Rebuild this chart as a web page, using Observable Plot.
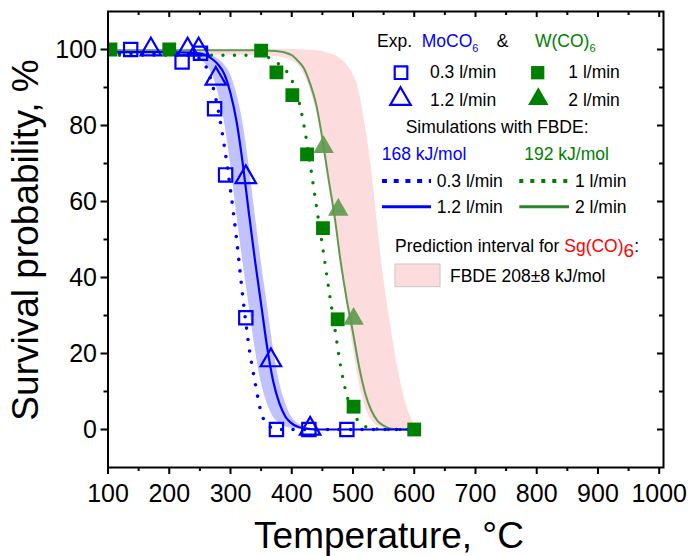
<!DOCTYPE html>
<html>
<head>
<meta charset="utf-8">
<script src="https://cdn.jsdelivr.net/npm/d3@7"></script>
<script src="https://cdn.jsdelivr.net/npm/@observablehq/plot@0.6"></script>
<style>
  html, body { margin: 0; padding: 0; background: #fff; }
  #chart { width: 691px; height: 556px; }
</style>
</head>
<body>
<div id="chart"></div>
<script>
// ---------- data ----------
const xMajor = [100, 200, 300, 400, 500, 600, 700, 800, 900, 1000];
const xMinor = [150, 250, 350, 450, 550, 650, 750, 850, 950];
const yMajor = [0, 20, 40, 60, 80, 100];
const yMinor = [10, 30, 50, 70, 90];

// Experimental points: Mo(CO)6
const moSqT = [137, 221, 251, 274, 292, 325, 375, 428, 490];      // 0.3 l/min
const moSqP = [100, 96.7, 99, 84.4, 67, 29.4, 0, 0, 0];
const moTriT = [170, 230, 248, 276, 325, 366, 430];               // 1.2 l/min
const moTriP = [100, 100, 100, 92.3, 66.4, 18.2, 0.2];

// Experimental points: W(CO)6
const wSqT = [104, 200, 350, 375, 401, 425, 451, 475, 501, 600];  // 1 l/min
const wSqP = [100, 100, 99.7, 94, 88, 72.4, 53, 29, 6, 0];
const wTriT = [452, 476, 501];                                    // 2 l/min
const wTriP = [74.3, 57.8, 29.1];

// Simulations, Mo (168 kJ/mol)
const blueT       = [100, 200, 230, 240, 250, 260, 270, 280, 290, 300, 310, 320, 330, 340, 350, 360, 370, 380, 390, 400, 410, 420, 440, 600];
const blueDotted  = [99, 99, 98.8, 98.5, 97.5, 95.5, 91, 84, 74.5, 63, 50, 35, 22, 12.5, 4.5, 1.3, 0.3, 0, 0, 0, 0, 0, 0, 0];
const blueSolid   = [99.3, 99.3, 99.2, 99.1, 99, 98.5, 97.5, 96, 93.5, 88.5, 81, 70, 57, 44.5, 33, 21.5, 12.5, 6.8, 3.3, 1.6, 0.7, 0.3, 0, 0];
const bandT       = [230, 240, 250, 260, 270, 280, 290, 300, 310, 320, 330, 340, 350, 360, 370, 380, 390, 400, 410, 420, 440];
const bandLo      = [99, 98.5, 97.5, 96, 93.5, 88.5, 81, 70, 57, 44.5, 33, 21.5, 12.5, 6.8, 3.3, 1.6, 0.7, 0.3, 0.1, 0, 0];
const bandHi      = [99.4, 99.3, 99.2, 99, 98.5, 97.5, 96, 93.5, 88.5, 81, 70, 57, 44.5, 33, 21.5, 12.5, 6.8, 3.3, 1.6, 0.7, 0.1];

// Simulations, W (192 kJ/mol)
const greenT      = [100, 300, 340, 360, 380, 400, 410, 420, 430, 440, 450, 460, 470, 480, 490, 500, 510, 520, 530, 540, 550, 560, 580, 600];
const greenDotted = [98.5, 98.5, 98.5, 98, 96, 92, 87.5, 80, 70, 59, 48.5, 37.5, 27, 16.5, 9, 4.5, 2, 0.8, 0.3, 0.1, 0, 0, 0, 0];
const greenSolid  = [99.8, 99.8, 99.8, 99.7, 99.5, 98.5, 97, 95, 91, 85.5, 76.5, 66, 56, 44, 34, 25.5, 16.5, 9.5, 5, 2.3, 1, 0.3, 0, 0];

// Prediction interval Sg(CO)6, FBDE 208±8 kJ/mol
const pinkT  = [100, 300, 340, 360, 380, 400, 410, 420, 430, 440, 450, 460, 470, 480, 490, 500, 510, 520, 530, 540, 550, 560, 570, 580, 590, 600, 610, 620];
const pinkLo = [98.5, 98.5, 98.5, 98.3, 98, 97, 96, 93.5, 89.5, 84, 77, 68, 57, 45, 33, 22, 12.5, 6, 2.5, 1, 0.3, 0, 0, 0, 0, 0, 0, 0];
const pinkHi = [100, 100, 100, 100, 100, 100, 100, 99.9, 99.8, 99.7, 99.5, 99, 98.5, 97.5, 96, 93.5, 89, 80, 69, 54, 40, 29, 19, 11, 5, 1.5, 0.3, 0];

// ---------- styles ----------
const FONT = "'Liberation Sans', Arial, Helvetica, sans-serif";
const BLUE = "#0000ff";
const GREEN = "#008000";
const OLIVE = "#5f9a4f";
const PINK = "#fcdcdc";
const RED = "#ff0000";

const W = 691, H = 556;
const mL = 107.5, mR = 28, mT = 11, mB = 89;
const plotW = W - mL - mR, plotH = H - mT - mB;

const chart = Plot.plot({
  width: W, height: H,
  marginLeft: mL, marginRight: mR, marginTop: mT, marginBottom: mB,
  x: {domain: [100, 1007]},
  y: {domain: [-10, 110]},
  style: {fontFamily: FONT, background: "#fff", color: "#000"},
  marks: [
    // bands
    Plot.areaY(pinkT, {x: pinkT, y1: pinkLo, y2: pinkHi, fill: PINK, curve: "monotone-x", clip: true}),
    Plot.areaY(bandT, {x: bandT, y1: bandLo, y2: bandHi, fill: BLUE, fillOpacity: 0.24, curve: "monotone-x", clip: true}),
    // simulations
    Plot.line(greenT, {x: greenT, y: greenSolid, stroke: OLIVE, strokeWidth: 2, curve: "monotone-x", clip: true}),
    Plot.line(greenT, {x: greenT, y: greenDotted, stroke: GREEN, strokeWidth: 3.4, strokeDasharray: "0 11.5", strokeLinecap: "round", curve: "monotone-x", clip: true}),
    Plot.line(blueT, {x: blueT, y: blueSolid, stroke: BLUE, strokeWidth: 2.2, curve: "monotone-x", clip: true}),
    Plot.line(blueT, {x: blueT, y: blueDotted, stroke: BLUE, strokeWidth: 3.6, strokeDasharray: "0 11.5", strokeLinecap: "round", curve: "monotone-x", clip: true}),
    // experimental points
    Plot.dot(wSqT, {x: wSqT, y: wSqP, symbol: "square", r: 7.8, fill: GREEN, clip: true}),
    Plot.dot(wTriT, {x: wTriT, y: wTriP, symbol: "triangle", r: 7.6, fill: OLIVE, fillOpacity: 0.92, clip: true}),
    Plot.dot(moSqT, {x: moSqT, y: moSqP, symbol: "square", r: 7.5, stroke: BLUE, strokeWidth: 2.2, fill: "none", clip: true}),
    Plot.dot(moTriT, {x: moTriT, y: moTriP, symbol: "triangle", r: 7.6, stroke: BLUE, strokeWidth: 2.2, fill: "none", clip: true}),
    // axes
    Plot.axisX({ticks: xMajor, tickSize: 7, tickPadding: 10, fontSize: 25, label: null, strokeWidth: 2, tickFormat: d => String(d)}),
    Plot.axisX({ticks: xMinor, tickSize: 4, label: null, strokeWidth: 2, tickFormat: () => ""}),
    Plot.axisY({ticks: yMajor, tickSize: 7, tickPadding: 4, fontSize: 25, label: null, strokeWidth: 2, tickFormat: d => String(d)}),
    Plot.axisY({ticks: yMinor, tickSize: 4, label: null, strokeWidth: 2, tickFormat: () => ""}),
    // mirrored inward ticks (top / right)
    Plot.tickX(xMajor, {x: d => d, insetBottom: plotH - 6, strokeWidth: 2}),
    Plot.tickX(xMinor, {x: d => d, insetBottom: plotH - 4, strokeWidth: 2}),
    Plot.tickY(yMajor, {y: d => d, insetLeft: plotW - 6, strokeWidth: 2}),
    Plot.tickY(yMinor, {y: d => d, insetLeft: plotW - 4, strokeWidth: 2}),
    Plot.frame({stroke: "#000", strokeWidth: 2})
  ]
});

document.getElementById("chart").appendChild(chart);

// ---------- axis titles & legend ----------
const svg = d3.select(chart);
const g = svg.append("g").attr("font-family", FONT).attr("fill", "#000");

g.append("text").attr("x", 389).attr("y", 547.5).attr("text-anchor", "middle")
  .attr("font-size", 37).text("Temperature, °C");
g.append("text").attr("transform", "translate(38,240) rotate(-90)").attr("text-anchor", "middle")
  .attr("font-size", 37).text("Survival probability, %");

const lg = g.append("g").attr("font-size", 17.5).attr("text-anchor", "start");
function label(x, y, s, color) {
  return lg.append("text").attr("x", x).attr("y", y).attr("text-anchor", "start").attr("fill", color || "#000").text(s);
}
function subLabel(x, y, main, sub, color, subSize, subDy) {
  const t = lg.append("text").attr("x", x).attr("y", y).attr("text-anchor", "start").attr("fill", color);
  t.append("tspan").text(main);
  t.append("tspan").attr("font-size", subSize).attr("dy", subDy).text(sub);
  return t;
}
const sym = (type, r) => d3.symbol(type, Math.PI * r * r)();

// header
label(377, 47.3, "Exp.");
subLabel(421.7, 47.3, "MoCO", "6", BLUE, 11, 5);
label(496.7, 47.3, "&");
subLabel(535, 47.3, "W(CO)", "6", GREEN, 11, 5);

// markers row 1
lg.append("path").attr("d", sym(d3.symbolSquare, 7.1)).attr("transform", "translate(401,72.7)")
  .attr("fill", "none").attr("stroke", BLUE).attr("stroke-width", 2.2);
label(430, 78.3, "0.3 l/min");
lg.append("path").attr("d", sym(d3.symbolSquare, 7.5)).attr("transform", "translate(537.7,72.7)")
  .attr("fill", GREEN);
label(568.3, 78.3, "1 l/min");
// markers row 2
lg.append("path").attr("d", sym(d3.symbolTriangle, 7.6)).attr("transform", "translate(400.5,99)")
  .attr("fill", "none").attr("stroke", BLUE).attr("stroke-width", 2.2);
label(430, 106, "1.2 l/min");
lg.append("path").attr("d", sym(d3.symbolTriangle, 7.6)).attr("transform", "translate(538.3,99)")
  .attr("fill", GREEN);
label(568.3, 106, "2 l/min");

// simulations
label(405.7, 133.3, "Simulations with FBDE:");
label(381.7, 160, "168 kJ/mol", BLUE);
label(524.3, 160, "192 kJ/mol", GREEN);

lg.append("line").attr("x1", 382).attr("x2", 431).attr("y1", 181).attr("y2", 181)
  .attr("stroke", BLUE).attr("stroke-width", 4).attr("stroke-dasharray", "5 6.7");
label(436.7, 186.7, "0.3 l/min");
lg.append("line").attr("x1", 519.3).attr("x2", 570).attr("y1", 181).attr("y2", 181)
  .attr("stroke", GREEN).attr("stroke-width", 4).attr("stroke-dasharray", "4 7");
label(575, 186.7, "1 l/min");

lg.append("line").attr("x1", 382).attr("x2", 431).attr("y1", 206.7).attr("y2", 206.7)
  .attr("stroke", BLUE).attr("stroke-width", 3);
label(436.7, 213.3, "1.2 l/min");
lg.append("line").attr("x1", 519.3).attr("x2", 569).attr("y1", 206.7).attr("y2", 206.7)
  .attr("stroke", "#2a842a").attr("stroke-width", 3);
label(575, 213.3, "2 l/min");

// prediction interval
const pt = lg.append("text").attr("x", 395).attr("y", 251.7).attr("text-anchor", "start");
pt.append("tspan").text("Prediction interval for ");
pt.append("tspan").attr("fill", RED).text("Sg(CO)");
pt.append("tspan").attr("fill", RED).attr("font-size", 19).attr("dy", 5).text("6");
pt.append("tspan").attr("dy", -5).text(":");

lg.append("rect").attr("x", 395).attr("y", 264).attr("width", 45).attr("height", 22.7)
  .attr("fill", PINK).attr("stroke", "#c8c8c8").attr("stroke-width", 1);
label(450, 281.7, "FBDE 208±8 kJ/mol");
</script>
</body>
</html>
